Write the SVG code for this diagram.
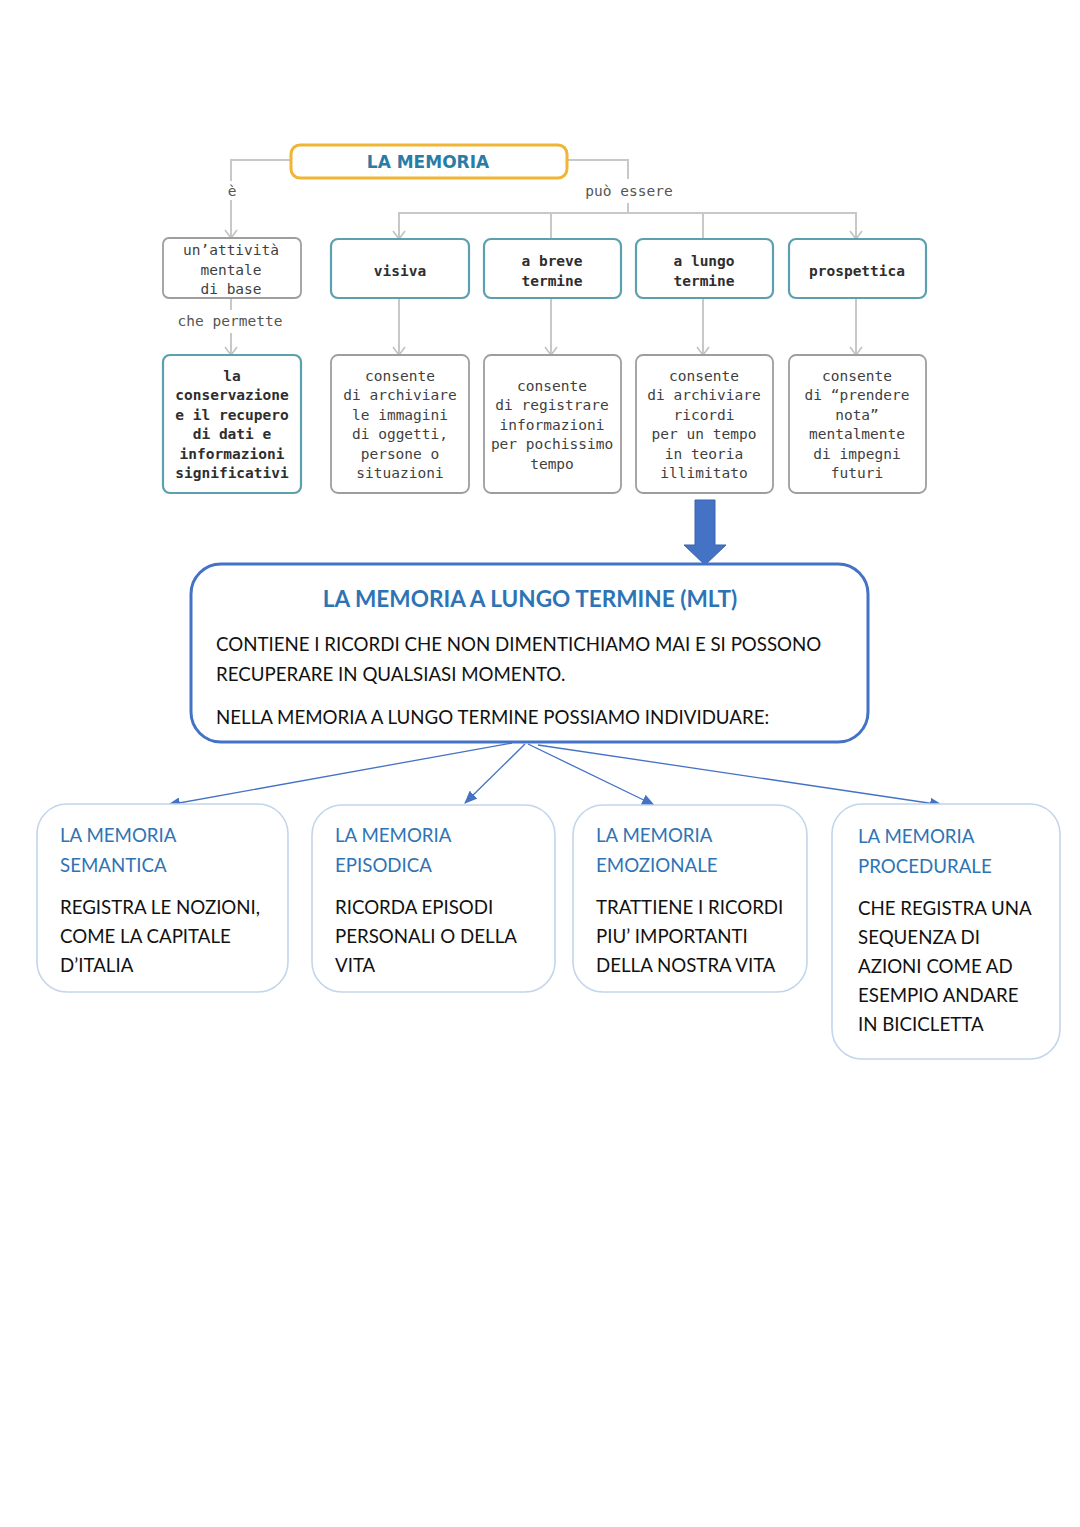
<svg xmlns="http://www.w3.org/2000/svg" width="1080" height="1527" viewBox="0 0 1080 1527">
<defs>
<marker id="chev" markerWidth="10" markerHeight="14" refX="9" refY="7" orient="auto-start-reverse" markerUnits="userSpaceOnUse" viewBox="0 0 10 14">
<path d="M1,1 L9,7 L1,13" fill="none" stroke="#c2c2c2" stroke-width="1.6"/>
</marker>
<marker id="tri" markerWidth="13" markerHeight="11" refX="12" refY="5.5" orient="auto" markerUnits="userSpaceOnUse" viewBox="0 0 13 11">
<path d="M0,0 L13,5.5 L0,11 Z" fill="#4472c4"/>
</marker>
</defs>
<style>
.gline{fill:none;stroke:#c8c8c8;stroke-width:2}
.bline{fill:none;stroke:#4472c4;stroke-width:1.3}
.tealbox{fill:#fff;stroke:#5c9fae;stroke-width:2.2}
.graybox{fill:#fff;stroke:#9e9e9e;stroke-width:1.8}
.mono{font-family:"DejaVu Sans Mono","Liberation Mono",monospace;font-size:14.5px;fill:#3f3f3f;text-anchor:middle}
.monob{font-family:"DejaVu Sans Mono","Liberation Mono",monospace;font-size:14.5px;font-weight:bold;fill:#2e2e2e;text-anchor:middle}
.lbl{font-family:"DejaVu Sans Mono","Liberation Mono",monospace;font-size:14.5px;fill:#555;text-anchor:middle}
.lowbox{fill:#fff;stroke:#c3d5ea;stroke-width:1.6}
.ttl{font-family:Lato,"Open Sans",sans-serif;font-size:18.7px;fill:#2e74b5}
.body{font-family:Lato,"Open Sans",sans-serif;font-size:18.7px;fill:#111}
</style>

<g id="connectors">
<path class="gline" d="M291,160 H231 V181"/>
<path class="gline" d="M231,200 V238" marker-end="url(#chev)"/>
<path class="gline" d="M567,160 H628 V179"/>
<path class="gline" d="M628,203 V213"/>
<path class="gline" d="M399,239 V213 H856 V239" marker-start="url(#chev)" marker-end="url(#chev)"/>
<path class="gline" d="M551,213 V239"/>
<path class="gline" d="M703,213 V239"/>
<path class="gline" d="M231,298 V310"/>
<path class="gline" d="M231,333 V355" marker-end="url(#chev)"/>
<path class="gline" d="M399,298 V355" marker-end="url(#chev)"/>
<path class="gline" d="M551,298 V355" marker-end="url(#chev)"/>
<path class="gline" d="M703,298 V355" marker-end="url(#chev)"/>
<path class="gline" d="M856,298 V355" marker-end="url(#chev)"/>
<path d="M695,500 H715 V545 H726 L705,565 L684,545 H695 Z" fill="#4472c4" stroke="#3a63ad" stroke-width="1"/>
<path class="bline" d="M512,743 L168,805" marker-end="url(#tri)"/>
<path class="bline" d="M525,744 L465,803" marker-end="url(#tri)"/>
<path class="bline" d="M528,744 L654,805" marker-end="url(#tri)"/>
<path class="bline" d="M538,745 L942,805" marker-end="url(#tri)"/>
</g>

<g id="labels">
<text class="lbl" x="232" y="196">è</text>
<text class="lbl" x="629" y="196">può essere</text>
<text class="lbl" x="230" y="326">che permette</text>
</g>

<g id="root">
<rect x="291" y="145" width="276" height="33" rx="9" fill="#fff" stroke="#f0b535" stroke-width="3"/>
<text x="428" y="168" font-family="'DejaVu Sans',sans-serif" font-size="17" font-weight="bold" fill="#2a7ca5" text-anchor="middle">LA MEMORIA</text>
</g>

<g id="attivita">
<rect class="graybox" x="163" y="238" width="138" height="60" rx="6"/>
<text class="mono" x="231" y="255">un’attività</text>
<text class="mono" x="231" y="275">mentale</text>
<text class="mono" x="231" y="294">di base</text>
</g>
<g id="visiva">
<rect class="tealbox" x="331" y="239" width="138" height="59" rx="7"/>
<text class="monob" x="400" y="276">visiva</text>
</g>
<g id="breve">
<rect class="tealbox" x="484" y="239" width="137" height="59" rx="7"/>
<text class="monob" x="552" y="266">a breve</text>
<text class="monob" x="552" y="286">termine</text>
</g>
<g id="lungo">
<rect class="tealbox" x="636" y="239" width="137" height="59" rx="7"/>
<text class="monob" x="704" y="266">a lungo</text>
<text class="monob" x="704" y="286">termine</text>
</g>
<g id="prospettica">
<rect class="tealbox" x="789" y="239" width="137" height="59" rx="7"/>
<text class="monob" x="857" y="276">prospettica</text>
</g>

<g id="conservazione">
<rect class="tealbox" x="163" y="355" width="138" height="138" rx="7"/>
<text class="monob" x="232" y="381">la</text>
<text class="monob" x="232" y="400">conservazione</text>
<text class="monob" x="232" y="420">e il recupero</text>
<text class="monob" x="232" y="439">di dati e</text>
<text class="monob" x="232" y="459">informazioni</text>
<text class="monob" x="232" y="478">significativi</text>
</g>
<g id="desc-visiva">
<rect class="graybox" x="331" y="355" width="138" height="138" rx="7"/>
<text class="mono" x="400" y="381">consente</text>
<text class="mono" x="400" y="400">di archiviare</text>
<text class="mono" x="400" y="420">le immagini</text>
<text class="mono" x="400" y="439">di oggetti,</text>
<text class="mono" x="400" y="459">persone o</text>
<text class="mono" x="400" y="478">situazioni</text>
</g>
<g id="desc-breve">
<rect class="graybox" x="484" y="355" width="137" height="138" rx="7"/>
<text class="mono" x="552" y="391">consente</text>
<text class="mono" x="552" y="410">di registrare</text>
<text class="mono" x="552" y="430">informazioni</text>
<text class="mono" x="552" y="449">per pochissimo</text>
<text class="mono" x="552" y="469">tempo</text>
</g>
<g id="desc-lungo">
<rect class="graybox" x="636" y="355" width="137" height="138" rx="7"/>
<text class="mono" x="704" y="381">consente</text>
<text class="mono" x="704" y="400">di archiviare</text>
<text class="mono" x="704" y="420">ricordi</text>
<text class="mono" x="704" y="439">per un tempo</text>
<text class="mono" x="704" y="459">in teoria</text>
<text class="mono" x="704" y="478">illimitato</text>
</g>
<g id="desc-prospettica">
<rect class="graybox" x="789" y="355" width="137" height="138" rx="7"/>
<text class="mono" x="857" y="381">consente</text>
<text class="mono" x="857" y="400">di “prendere</text>
<text class="mono" x="857" y="420">nota”</text>
<text class="mono" x="857" y="439">mentalmente</text>
<text class="mono" x="857" y="459">di impegni</text>
<text class="mono" x="857" y="478">futuri</text>
</g>

<g id="mlt">
<rect x="191" y="564" width="677" height="178" rx="30" fill="#fff" stroke="#4472c4" stroke-width="3"/>
<text x="530" y="607" font-family="Lato,'Open Sans',sans-serif" font-size="22.6" font-weight="bold" fill="#2e74b5" text-anchor="middle">LA MEMORIA A LUNGO TERMINE (MLT)</text>
<text class="body" x="216" y="651">CONTIENE I RICORDI CHE NON DIMENTICHIAMO MAI E SI POSSONO</text>
<text class="body" x="216" y="681">RECUPERARE IN QUALSIASI MOMENTO.</text>
<text class="body" x="216" y="724">NELLA MEMORIA A LUNGO TERMINE POSSIAMO INDIVIDUARE:</text>
</g>

<g id="semantica">
<rect class="lowbox" x="37" y="804" width="251" height="188" rx="30"/>
<text class="ttl" x="60" y="842">LA MEMORIA</text>
<text class="ttl" x="60" y="872">SEMANTICA</text>
<text class="body" x="60" y="914">REGISTRA LE NOZIONI,</text>
<text class="body" x="60" y="943">COME LA CAPITALE</text>
<text class="body" x="60" y="972">D’ITALIA</text>
</g>
<g id="episodica">
<rect class="lowbox" x="312" y="805" width="243" height="187" rx="30"/>
<text class="ttl" x="335" y="842">LA MEMORIA</text>
<text class="ttl" x="335" y="872">EPISODICA</text>
<text class="body" x="335" y="914">RICORDA EPISODI</text>
<text class="body" x="335" y="943">PERSONALI O DELLA</text>
<text class="body" x="335" y="972">VITA</text>
</g>
<g id="emozionale">
<rect class="lowbox" x="573" y="805" width="234" height="187" rx="30"/>
<text class="ttl" x="596" y="842">LA MEMORIA</text>
<text class="ttl" x="596" y="872">EMOZIONALE</text>
<text class="body" x="596" y="914">TRATTIENE I RICORDI</text>
<text class="body" x="596" y="943">PIU’ IMPORTANTI</text>
<text class="body" x="596" y="972">DELLA NOSTRA VITA</text>
</g>
<g id="procedurale">
<rect class="lowbox" x="832" y="804" width="228" height="255" rx="30"/>
<text class="ttl" x="858" y="843">LA MEMORIA</text>
<text class="ttl" x="858" y="873">PROCEDURALE</text>
<text class="body" x="858" y="915">CHE REGISTRA UNA</text>
<text class="body" x="858" y="944">SEQUENZA DI</text>
<text class="body" x="858" y="973">AZIONI COME AD</text>
<text class="body" x="858" y="1002">ESEMPIO ANDARE</text>
<text class="body" x="858" y="1031">IN BICICLETTA</text>
</g>
</svg>
